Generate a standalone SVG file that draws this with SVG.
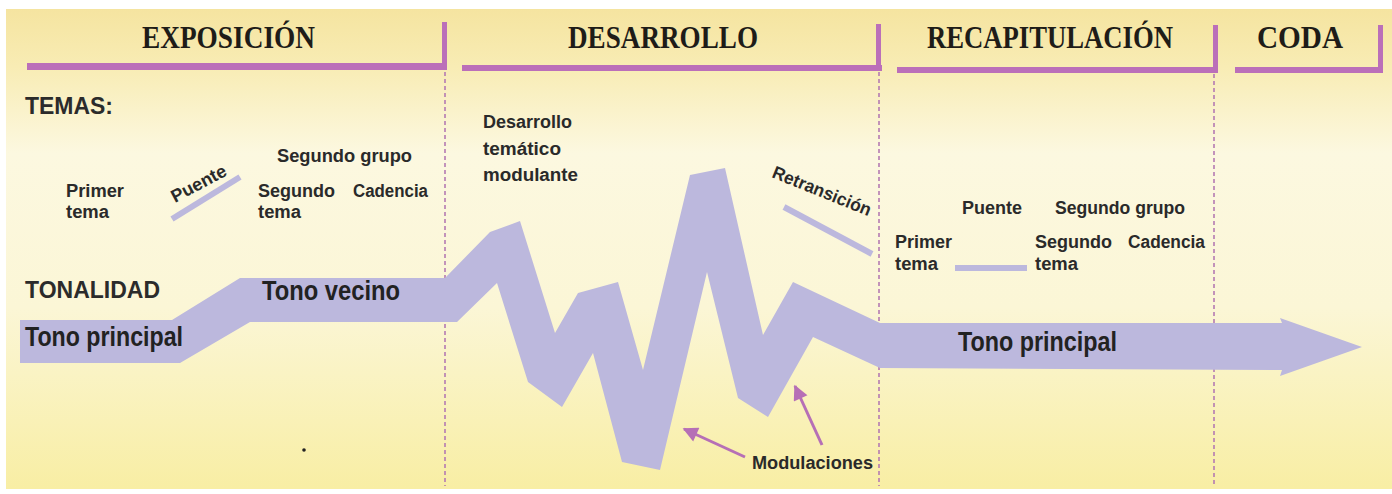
<svg xmlns="http://www.w3.org/2000/svg" width="1392" height="494" viewBox="0 0 1392 494">
<defs>
<linearGradient id="bg" x1="0" y1="0" x2="0" y2="1">
<stop offset="0" stop-color="#f5e4a0"/>
<stop offset="0.12" stop-color="#f8ecb4"/>
<stop offset="0.3" stop-color="#fcf8e0"/>
<stop offset="0.62" stop-color="#fbf6d6"/>
<stop offset="1" stop-color="#f8eea4"/>
</linearGradient>
<marker id="ah" viewBox="0 0 10 10" refX="9" refY="5" markerWidth="5.5" markerHeight="5" orient="auto">
<path d="M0,0 L10,5 L0,10 z" fill="#b66fb6"/>
</marker>
<style>
.hd{font-family:"Liberation Serif",serif;font-weight:bold;font-size:32px;fill:#1e1c18}
.lb{font-family:"Liberation Sans",Arial,sans-serif;font-weight:bold;font-size:18px;fill:#2a2a2a}
.big{font-family:"Liberation Sans",Arial,sans-serif;font-weight:bold;font-size:27px;fill:#222}
.cap{font-family:"Liberation Sans",Arial,sans-serif;font-weight:bold;font-size:23px;fill:#2b2b2b}
.bar{fill:#bb6fb9}
.dash{stroke:#b47ab2;stroke-width:1.6;stroke-dasharray:4 3;fill:none}
.lav{fill:#bcb8dd}
.lavs{stroke:#bcb8dd;fill:none}
.arr{stroke:#b66fb6;stroke-width:3;fill:none;marker-end:url(#ah)}
</style>
</defs>
<rect width="1392" height="494" fill="#ffffff"/>
<rect x="6" y="9" width="1386" height="480" fill="url(#bg)"/>
<circle cx="304" cy="450" r="1.8" fill="#222"/>

<g id="dividers">
<line class="dash" x1="445" y1="72" x2="445" y2="486"/>
<line class="dash" x1="879" y1="72" x2="879" y2="486"/>
<line class="dash" x1="1214" y1="74" x2="1214" y2="486"/>
</g>

<g id="header-exposicion">
<rect class="bar" x="27" y="63" width="420" height="7"/>
<rect class="bar" x="442" y="22" width="5" height="48"/>
<text class="hd" x="142" y="48" textLength="173" lengthAdjust="spacingAndGlyphs">EXPOSICIÓN</text>
</g>
<g id="header-desarrollo">
<rect class="bar" x="462" y="65" width="420" height="6"/>
<rect class="bar" x="876" y="24" width="5" height="47"/>
<text class="hd" x="568" y="48" textLength="190" lengthAdjust="spacingAndGlyphs">DESARROLLO</text>
</g>
<g id="header-recapitulacion">
<rect class="bar" x="897" y="67" width="321" height="6"/>
<rect class="bar" x="1213" y="25" width="5" height="48"/>
<text class="hd" x="927" y="48" textLength="246" lengthAdjust="spacingAndGlyphs">RECAPITULACIÓN</text>
</g>
<g id="header-coda">
<rect class="bar" x="1235" y="67" width="148" height="6"/>
<rect class="bar" x="1378" y="25" width="5" height="48"/>
<text class="hd" x="1257" y="48" textLength="86" lengthAdjust="spacingAndGlyphs">CODA</text>
</g>

<g id="tonality-band">
<polygon class="lav" points="20,320 172,320 240,278 445,278 490,232 520,221 555,333 578,293 618,282 643,370 690,175 725,168 763,335 793,282 880,323 1282,323 1280,318 1362,347 1280,376 1282,370 880,368 813,337 768,417 738,398 707,272 660,470 622,462 593,353 562,407 528,382 497,283 457,322 250,322 180,363 20,363"/>
</g>

<g id="labels-left">
<text class="cap" x="25" y="114" textLength="88" lengthAdjust="spacingAndGlyphs">TEMAS:</text>
<text class="cap" x="25" y="298" textLength="135" lengthAdjust="spacingAndGlyphs">TONALIDAD</text>
</g>

<g id="expo-temas">
<text class="lb" x="66" y="197" textLength="58" lengthAdjust="spacingAndGlyphs">Primer</text>
<text class="lb" x="66" y="218" textLength="43" lengthAdjust="spacingAndGlyphs">tema</text>
<line class="lavs" x1="172" y1="219" x2="240" y2="177" stroke-width="6"/>
<text class="lb" transform="translate(175,203) rotate(-28)" font-size="17">Puente</text>
<text class="lb" x="277" y="162" textLength="135" lengthAdjust="spacingAndGlyphs">Segundo grupo</text>
<text class="lb" x="258" y="197" textLength="77" lengthAdjust="spacingAndGlyphs">Segundo</text>
<text class="lb" x="353" y="197" textLength="75" lengthAdjust="spacingAndGlyphs">Cadencia</text>
<text class="lb" x="258" y="218" textLength="43" lengthAdjust="spacingAndGlyphs">tema</text>
</g>

<g id="expo-tonos">
<text class="big" x="25" y="346" textLength="158" lengthAdjust="spacingAndGlyphs">Tono principal</text>
<text class="big" x="262" y="300" textLength="138" lengthAdjust="spacingAndGlyphs">Tono vecino</text>
</g>

<g id="desarrollo-texts">
<text class="lb" x="483" y="128" textLength="89" lengthAdjust="spacingAndGlyphs">Desarrollo</text>
<text class="lb" x="483" y="155" textLength="78" lengthAdjust="spacingAndGlyphs">temático</text>
<text class="lb" x="483" y="181" textLength="95" lengthAdjust="spacingAndGlyphs">modulante</text>
<text class="lb" transform="translate(771,177) rotate(22)" textLength="105" lengthAdjust="spacingAndGlyphs">Retransición</text>
<line class="lavs" x1="784" y1="207" x2="872" y2="254" stroke-width="6"/>
</g>

<g id="modulaciones">
<text class="lb" x="752" y="469" textLength="121" lengthAdjust="spacingAndGlyphs">Modulaciones</text>
</g>

<g id="connectors">
<line class="arr" x1="745" y1="457" x2="684" y2="429"/>
<line class="arr" x1="822" y1="445" x2="795" y2="386"/>
</g>

<g id="recap-temas">
<text class="lb" x="962" y="214" textLength="60" lengthAdjust="spacingAndGlyphs">Puente</text>
<text class="lb" x="1055" y="214" textLength="130" lengthAdjust="spacingAndGlyphs">Segundo grupo</text>
<text class="lb" x="895" y="248" textLength="57" lengthAdjust="spacingAndGlyphs">Primer</text>
<text class="lb" x="895" y="270" textLength="43" lengthAdjust="spacingAndGlyphs">tema</text>
<line class="lavs" x1="955" y1="268" x2="1027" y2="268" stroke-width="6"/>
<text class="lb" x="1035" y="248" textLength="77" lengthAdjust="spacingAndGlyphs">Segundo</text>
<text class="lb" x="1128" y="248" textLength="77" lengthAdjust="spacingAndGlyphs">Cadencia</text>
<text class="lb" x="1035" y="270" textLength="43" lengthAdjust="spacingAndGlyphs">tema</text>
</g>

<g id="recap-tono">
<text class="big" x="958" y="351" textLength="159" lengthAdjust="spacingAndGlyphs">Tono principal</text>
</g>
</svg>
